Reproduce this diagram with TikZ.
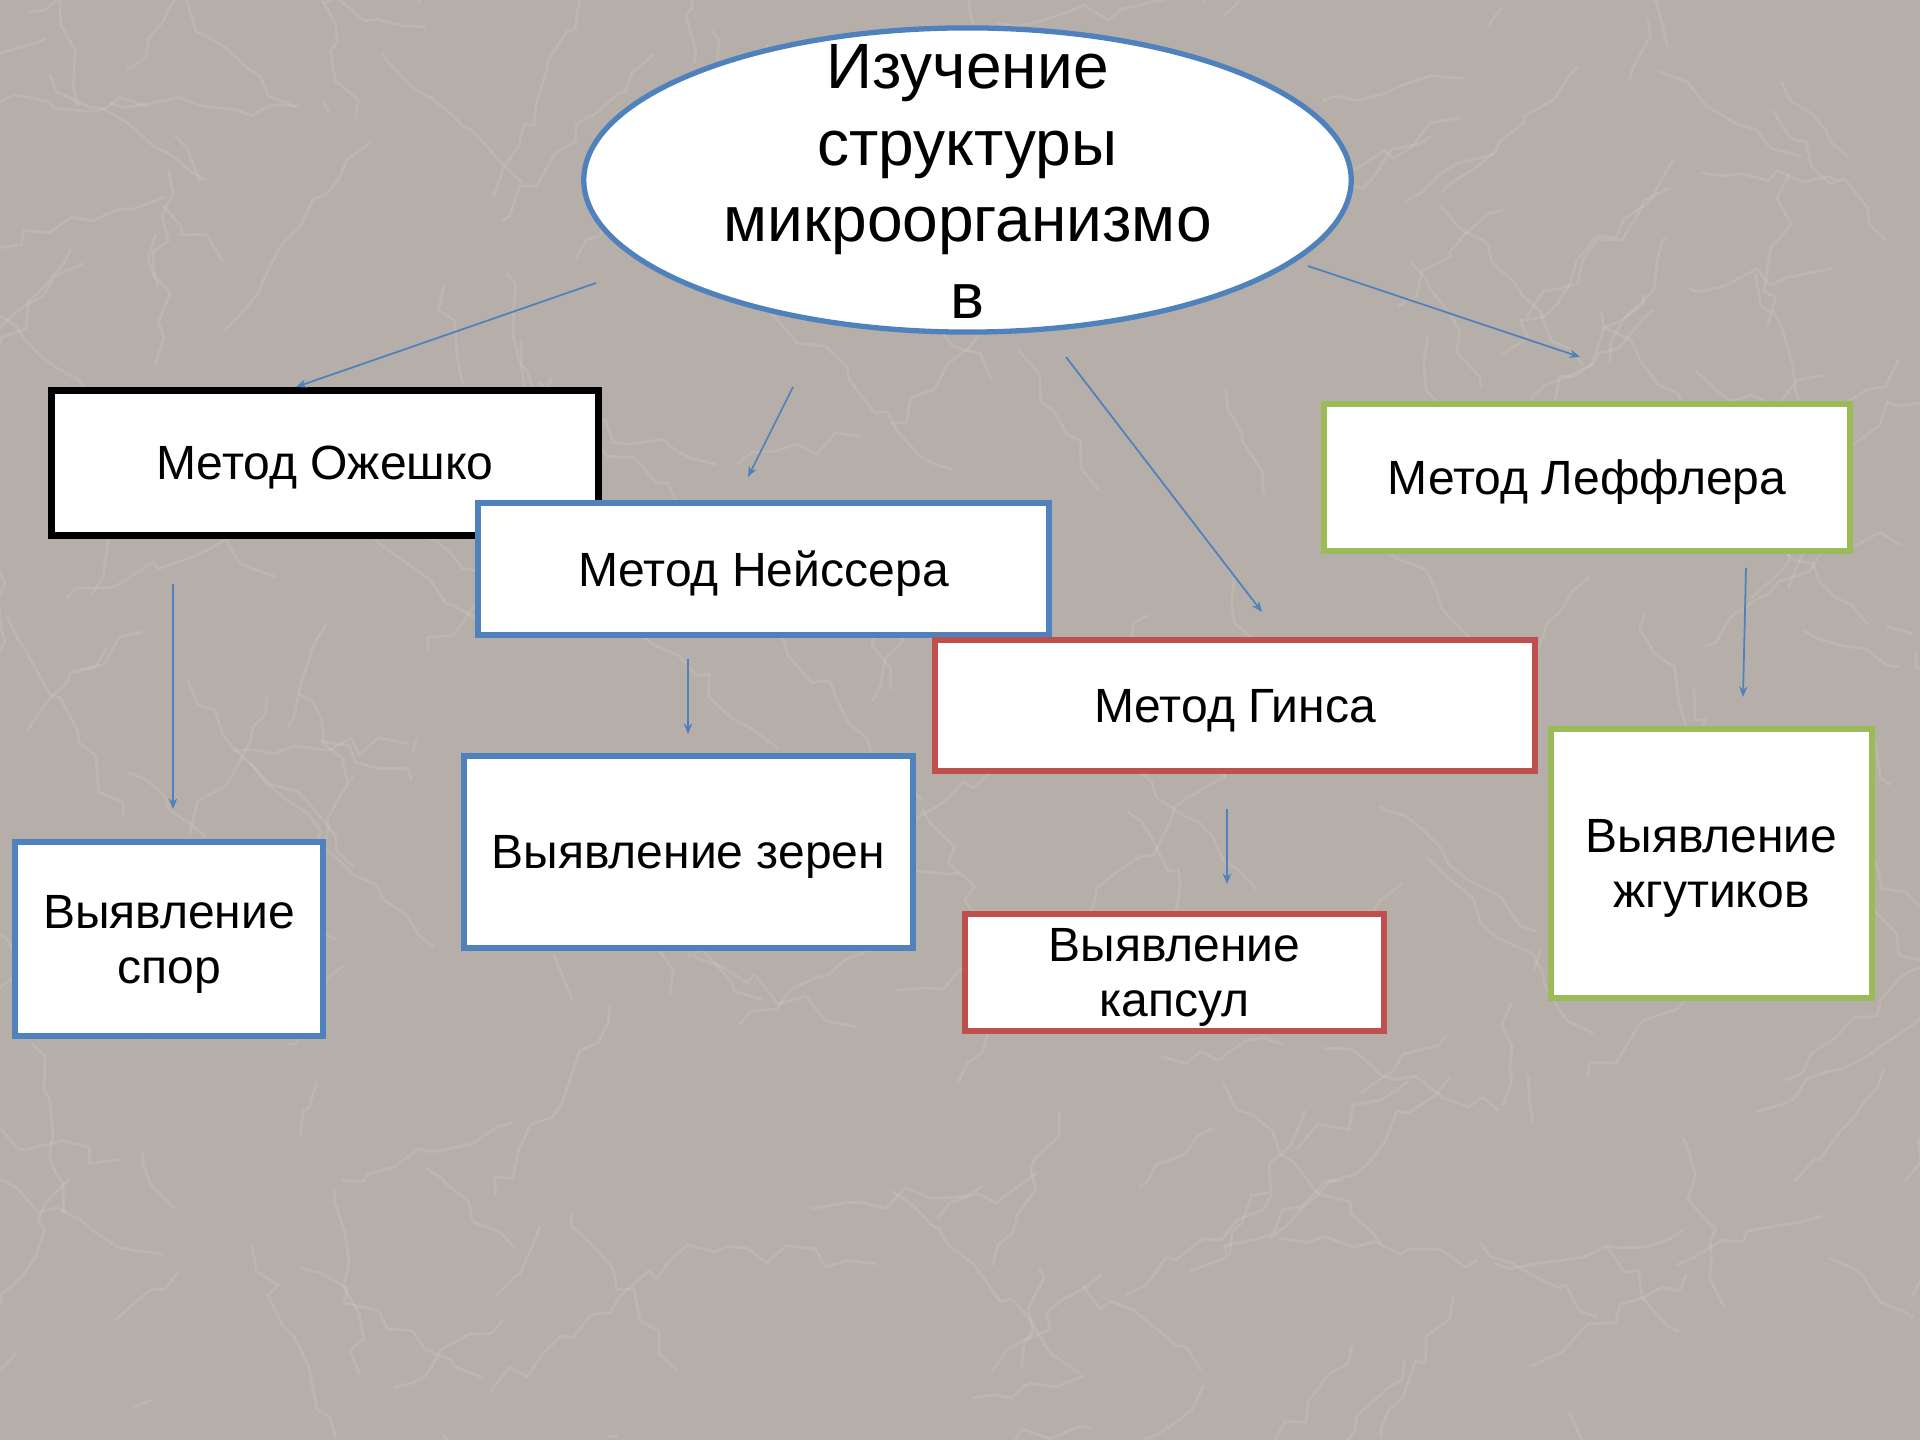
\documentclass[tikz,border=0pt]{standalone}
\usepackage{fontspec}
\setmainfont{Liberation Sans}
\usetikzlibrary{shapes.geometric,arrows.meta,decorations.pathmorphing}
\definecolor{bgc}{RGB}{182,174,169}
\definecolor{oblue}{RGB}{79,129,189}
\definecolor{ored}{RGB}{192,80,77}
\definecolor{ogreen}{RGB}{155,187,89}
\tikzset{
  px/.style={x=0.01cm,y=-0.01cm},
  boxbase/.style={rectangle,fill=white,line width=1.6pt,inner sep=0pt,outer sep=0pt,
    align=center,text depth=0pt,
    font=\fontsize{13.66pt}{15.65pt}\selectfont},
  bluebox/.style={boxbase,draw=oblue},
  redbox/.style={boxbase,draw=ored},
  greenbox/.style={boxbase,draw=ogreen},
  blackbox/.style={boxbase,draw=black,line width=1.9pt},
  bigell/.style={ellipse,fill=white,draw=oblue,line width=1.5pt,inner sep=0pt,outer sep=0pt},
  bigtext/.style={align=center,inner sep=0pt,font=\fontsize{18.21pt}{21.83pt}\selectfont},
  arr/.style={draw=oblue,line width=0.5pt,-{Stealth[length=3pt,width=2.4pt]}},
  vein/.style={white,opacity=0.09,line width=0.8pt,line join=round,decorate,
    decoration={random steps,segment length=6pt,amplitude=3pt}}
}
\begin{document}
\begin{tikzpicture}[px]
\fill[bgc] (0,0) rectangle (1920,1440);
\pgfmathsetseed{4321}
\begin{scope}
\clip (0,0) rectangle (1920,1440);
\foreach \i in {1,...,240}{
  \draw[vein] (960+rand*1000,720+rand*760) -- ++(rand*200,rand*200);
}
\end{scope}
\useasboundingbox (0,0) rectangle (1920,1440);

\node[bigell,minimum width=7.67cm,minimum height=3.04cm] (ell) at (967.5,180) {};
\node[bigtext] (elltext) at (967.5,181.5) {Изучение\\структуры\\микроорганизмо\\в};

\node[blackbox,minimum width=5.47cm,minimum height=1.45cm] (ozh) at (325,463) {Метод Ожешко};
\node[bluebox,minimum width=5.71cm,minimum height=1.32cm] (neis) at (763.5,569) {Метод Нейссера};
\node[redbox,minimum width=6.00cm,minimum height=1.31cm] (gins) at (1235,705.5) {Метод Гинса};
\node[greenbox,minimum width=5.26cm,minimum height=1.47cm] (leff) at (1587,477.5) {Метод Леффлера};

\node[bluebox,minimum width=3.08cm,minimum height=1.94cm] (spor) at (169,939) {Выявление\\спор};
\node[bluebox,minimum width=4.49cm,minimum height=1.92cm] (zeren) at (688.5,852) {Выявление зерен};
\node[redbox,minimum width=4.19cm,minimum height=1.17cm] (kaps) at (1174.5,972.5) {Выявление\\капсул};
\node[greenbox,minimum width=3.21cm,minimum height=2.69cm] (zhgut) at (1711.5,863.5) {Выявление\\жгутиков};

\coordinate (s1) at (596,283);  \coordinate (e1) at (296,387);
\coordinate (s2) at (793,387);  \coordinate (e2) at (748,477);
\coordinate (s3) at (1066,357); \coordinate (e3) at (1262,612);
\coordinate (s4) at (1308,266); \coordinate (e4) at (1580,357);
\coordinate (s5) at (173,584);  \coordinate (e5) at (173,809);
\coordinate (s6) at (688,659);  \coordinate (e6) at (688,734);
\coordinate (s7) at (1227,809); \coordinate (e7) at (1227,884);
\coordinate (s8) at (1746,568); \coordinate (e8) at (1743,697);

\draw[arr] (s1) -- (e1);
\draw[arr] (s2) -- (e2);
\draw[arr] (s3) -- (e3);
\draw[arr] (s4) -- (e4);
\draw[arr] (s5) -- (e5);
\draw[arr] (s6) -- (e6);
\draw[arr] (s7) -- (e7);
\draw[arr] (s8) -- (e8);
\end{tikzpicture}
\end{document}
